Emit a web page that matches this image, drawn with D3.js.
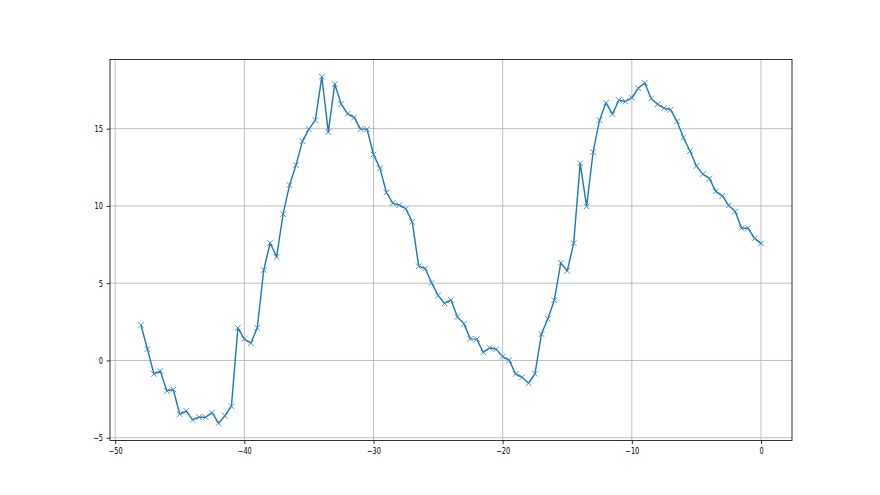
<!DOCTYPE html>
<html>
<head>
<meta charset="utf-8">
<script src="https://cdn.jsdelivr.net/npm/d3@7"></script>
<style>
html,body{margin:0;padding:0;background:#fff;}
svg{display:block;}
text{font-family:"DejaVu Sans",sans-serif;}
</style>
</head>
<body>
<svg id="chart" width="880" height="495"></svg>
<script>
const xValues = [-48,-47.5,-47,-46.5,-46,-45.5,-45,-44.5,-44,-43.5,-43,-42.5,-42,-41.5,-41,-40.5,-40,
-39.5,-39,-38.5,-38,-37.5,-37,-36.5,-36,-35.5,-35,-34.5,-34,-33.5,-33,-32.5,-32,-31.5,-31,-30.5,-30,
-29.5,-29,-28.5,-28,-27.5,-27,-26.5,-26,-25.5,-25,-24.5,-24,-23.5,-23,-22.5,-22,-21.5,-21,-20.5,-20,
-19.5,-19,-18.5,-18,-17.5,-17,-16.5,-16,-15.5,-15,-14.5,-14,-13.5,-13,-12.5,-12,-11.5,-11,-10.5,-10,
-9.5,-9,-8.5,-8,-7.5,-7,-6.5,-6,-5.5,-5,-4.5,-4,-3.5,-3,-2.5,-2,-1.5,-1,-0.5,0];
const yValues = [2.28,0.73,-0.87,-0.69,-1.97,-1.88,-3.48,-3.26,-3.84,-3.67,-3.67,-3.37,-4.06,-3.58,-2.96,2.11,1.38,
1.12,2.11,5.85,7.6,6.7,9.47,11.35,12.64,14.19,14.97,15.55,18.36,14.78,17.88,16.59,15.96,15.73,14.97,14.97,13.33,
12.43,10.87,10.17,10.05,9.82,8.97,6.10,5.95,5.02,4.21,3.69,3.92,2.82,2.37,1.40,1.38,0.52,0.82,0.73,0.25,
0.02,-0.87,-1.09,-1.47,-0.86,1.71,2.70,3.90,6.32,5.80,7.59,12.75,9.97,13.48,15.55,16.67,15.94,16.85,16.76,17.0,
17.61,17.96,16.95,16.57,16.33,16.22,15.47,14.41,13.55,12.58,12.06,11.78,10.94,10.65,10.03,9.64,8.56,8.56,7.90,7.57];
const xTicks = [-50,-40,-30,-20,-10,0];
const yTicks = [-5,0,5,10,15];

const plotL = 110, plotR = 792, plotT = 59.4, plotB = 440.55;
const svg = d3.select("#chart");
const data = xValues.map((xv,i)=>({x:xv,y:yValues[i]}));

const xmin = d3.min(xValues), xmax = d3.max(xValues);
const ymin = d3.min(yValues), ymax = d3.max(yValues);
const xm = (xmax-xmin)*0.05, ym = (ymax-ymin)*0.05;
const x = d3.scaleLinear().domain([xmin-xm, xmax+xm]).range([plotL, plotR]);
const y = d3.scaleLinear().domain([ymin-ym, ymax+ym]).range([plotB, plotT]);

// grid
const g = svg.append("g");
g.selectAll("line.gx").data(xTicks).enter().append("line")
  .attr("x1",d=>x(d)).attr("x2",d=>x(d)).attr("y1",plotT).attr("y2",plotB)
  .attr("stroke","#b0b0b0").attr("stroke-width",0.8);
g.selectAll("line.gy").data(yTicks).enter().append("line")
  .attr("y1",d=>y(d)).attr("y2",d=>y(d)).attr("x1",plotL).attr("x2",plotR)
  .attr("stroke","#b0b0b0").attr("stroke-width",0.8);

// axes
const sx = 0.72;
const fmt = d=>d<0?"\u2212"+Math.abs(d):String(d);
const xAxis = d3.axisBottom(x).tickValues(xTicks).tickSizeInner(3.5).tickSizeOuter(0).tickPadding(3.5).tickFormat(fmt);
const yAxis = d3.axisLeft(y).tickValues(yTicks).tickSizeInner(3.5).tickSizeOuter(0).tickPadding(3.5).tickFormat(fmt);
const gx = svg.append("g").attr("transform",`translate(0,${plotB})`).call(xAxis);
const gy = svg.append("g").attr("transform",`translate(${plotL},0)`).call(yAxis);
[gx,gy].forEach(a=>{
  a.select(".domain").remove();
  a.selectAll(".tick line").attr("stroke","#000").attr("stroke-width",0.8);
  a.selectAll(".tick text").attr("fill","#000").style("font-size","9.2px").style("font-family","DejaVu Sans");
});
gx.selectAll(".tick text").attr("transform",`scale(${sx},1)`);
gy.selectAll(".tick text").attr("x",-7/sx).attr("transform",`scale(${sx},1)`);

// line
const line = d3.line().x(d=>x(d.x)).y(d=>y(d.y));
svg.append("path").datum(data).attr("d",line)
  .attr("fill","none").attr("stroke","#1f77b4").attr("stroke-width",1.4)
  .attr("stroke-linejoin","round").attr("stroke-linecap","square");

// markers
const s = 2.8;
svg.append("g").selectAll("path").data(data).enter().append("path")
  .attr("d",d=>{const cx=x(d.x), cy=y(d.y);
    return `M${cx-s},${cy-s}L${cx+s},${cy+s}M${cx-s},${cy+s}L${cx+s},${cy-s}`;})
  .attr("stroke","#3a8ac4").attr("stroke-width",0.9).attr("fill","none");

// spines
svg.append("rect").attr("x",plotL).attr("y",plotT).attr("width",plotR-plotL).attr("height",plotB-plotT)
  .attr("fill","none").attr("stroke","#000").attr("stroke-width",0.8);
</script>
</body>
</html>
